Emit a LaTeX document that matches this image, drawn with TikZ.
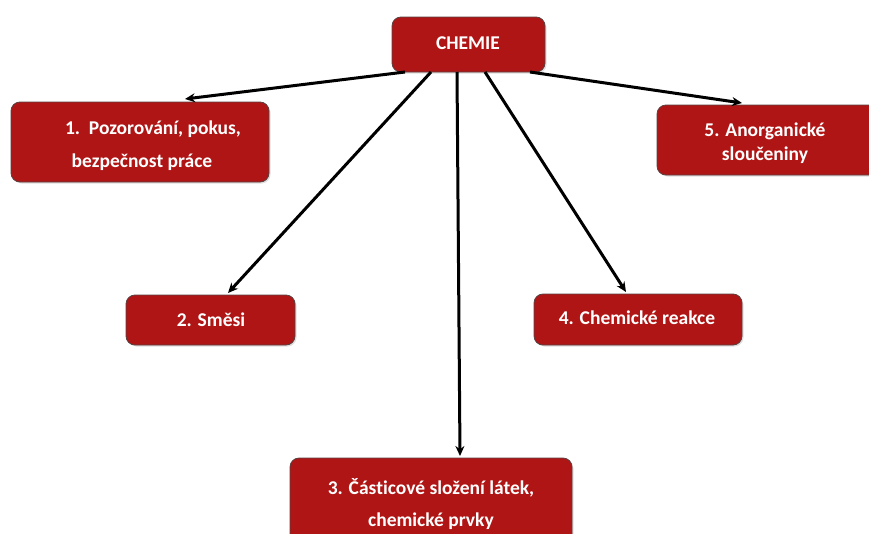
\documentclass[tikz,border=0pt]{standalone}
\usepackage{fontspec}
\setmainfont{Carlito}[Ligatures=NoCommon]
\usetikzlibrary{arrows.meta,shadows}
\definecolor{boxred}{HTML}{B01515}
\definecolor{boxedge}{HTML}{5A4040}
\begin{document}
\begin{tikzpicture}[x=1pt,y=-1pt,
  topic/.style={draw=boxedge,line width=0.8pt,fill=boxred,rounded corners=9pt,
    drop shadow={shadow xshift=1.5pt,shadow yshift=-1.5pt,opacity=0.25},
    inner sep=0pt,outer sep=0pt},
  lbl/.style={text=white,font=\bfseries\fontsize{19.5}{22}\selectfont,inner sep=0pt,anchor=center},
  link/.style={draw=black,line width=3pt,-{Stealth[length=10pt,width=9pt]}}]
\useasboundingbox (0,0) rectangle (869,533);
% boxes
\path[topic] (392,17) rectangle (545,72);
\node[lbl] (chemie) at (468,43) {CHEMIE};
\path[topic] (11,102) rectangle (269,182);
\path[topic] (657,105) rectangle (880,175);
\path[topic] (126,295) rectangle (295,345);
\path[topic] (534,294) rectangle (742,345);
\path[topic] (290,458) rectangle (572,545);
% anchors for connectors
\coordinate (c1) at (405,72);
\coordinate (c2) at (431,72);
\coordinate (c3) at (457,72);
\coordinate (c4) at (485,72);
\coordinate (c5) at (530,72);
\coordinate (t1) at (185,99);
\coordinate (t2) at (228,293);
\coordinate (t3) at (460,456);
\coordinate (t4) at (626,292);
\coordinate (t5) at (742,103);
% labels
\node[lbl] (n1a) at (153,129) {1.\ \ Pozorování, pokus,};
\node[lbl] (n1b) at (142,162) {bezpečnost práce};
\node[lbl] (n5a) at (765,131) {5. Anorganické};
\node[lbl] (n5b) at (765,155) {sloučeniny};
\node[lbl] (n2) at (211,320) {2. Směsi};
\node[lbl] (n4) at (637,318) {4. Chemické reakce};
\node[lbl] (n3a) at (431,488) {3. Částicové složení látek,};
\node[lbl] (n3b) at (431,521) {chemické prvky};
% connectors
\draw[link] (c1) -- (t1);
\draw[link] (c2) -- (t2);
\draw[link] (c3) -- (t3);
\draw[link] (c4) -- (t4);
\draw[link] (c5) -- (t5);
\end{tikzpicture}
\end{document}
